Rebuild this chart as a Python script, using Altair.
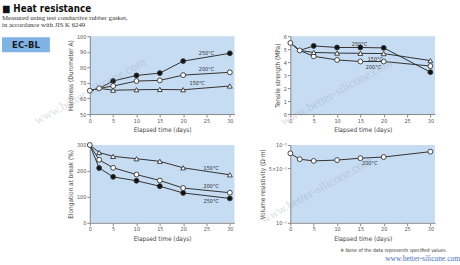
import altair as alt
import pandas as pd

# ---- data -------------------------------------------------------------
days = [0, 2, 5, 10, 15, 20, 30]
temps = ["250°C", "200°C", "150°C"]

# hardness (Durometer A): shared start values at 0 and 2 days, then per temperature
hard_start = [65, 66.5]
hard_250 = [71.2, 74.8, 76.3, 84.0, 89.0]
hard_200 = [68.0, 71.2, 71.6, 75.0, 76.8]
hard_150 = [65.3, 65.6, 65.8, 65.6, 68.0]

# tensile strength (MPa)
tens_start = [5.48, 4.9]
tens_250 = [5.25, 5.13, 5.13, 5.1, 3.23]
tens_200 = [4.45, 4.17, 4.05, 4.05, 3.7]
tens_150 = [4.75, 4.7, 4.68, 4.66, 4.12]

# elongation at break (%): shared start at 0 days only
elong_start = [300]
elong_250 = [211, 177, 162, 141, 115, 94]
elong_200 = [243, 212, 186, 163, 134, 116]
elong_150 = [271, 256, 247, 237, 212, 185]

# volume resistivity (Ω·m) at 200°C
vol_200 = [0.078, 0.0656, 0.0624, 0.064, 0.0676, 0.070, 0.082]

FONT = "'Liberation Sans Narrow', 'DejaVu Sans Condensed', sans-serif"
SERIF = "'Liberation Serif', serif"
INK = "#333333"
BG = "#c6dcf2"
SITE = "www.better-silicone.com"


def frames(start, series):
    """Long tables for the connecting lines and for the markers."""
    n0 = len(start)
    lines, pts = [], []
    for t, vals in zip(temps, series):
        full = list(start) + list(vals)
        for d, v in zip(days, full):
            lines.append({"day": d, "value": v, "temp": t})
        for d, v in zip(days[n0:], vals):
            pts.append({"day": d, "value": v, "temp": t})
    for d, v in zip(days[:n0], start):
        pts.append({"day": d, "value": v, "temp": "start"})
    return pd.DataFrame(lines), pd.DataFrame(pts)


shape_scale = alt.Scale(domain=["250°C", "200°C", "150°C", "start"],
                        range=["circle", "circle", "triangle-up", "circle"])
fill_scale = alt.Scale(domain=["250°C", "200°C", "150°C", "start"],
                       range=["#111111", "white", "white", "white"])

x_enc = alt.X("day:Q", scale=alt.Scale(domain=[0, 31], nice=False),
              axis=alt.Axis(values=[0, 5, 10, 15, 20, 25, 30], labelOverlap=False,
                            title="Elapsed time (days)"))


def watermark(cx, cy):
    """Faint diagonal site stamp."""
    return alt.Chart(pd.DataFrame({"t": [SITE]})).mark_text(
        font=SERIF, fontSize=12.5, angle=331, color="#8e99a6",
        opacity=0.3, align="center", baseline="middle").encode(
        x=alt.value(cx), y=alt.value(cy), text="t:N")


def panel(start, series, ytitle, ydom, yvals, labels, w, h):
    lines, pts = frames(start, series)
    y_enc = alt.Y("value:Q", scale=alt.Scale(domain=ydom, nice=False),
                  axis=alt.Axis(values=yvals, title=ytitle, labelOverlap=False))
    line = alt.Chart(lines).mark_line(color=INK, strokeWidth=1).encode(
        x=x_enc, y=y_enc, detail="temp:N")
    pt = alt.Chart(pts).mark_point(size=24, strokeWidth=0.9, opacity=1,
                                   filled=False, stroke=INK).encode(
        x=x_enc, y=y_enc,
        shape=alt.Shape("temp:N", scale=shape_scale, legend=None),
        fill=alt.Fill("temp:N", scale=fill_scale, legend=None))
    lab = alt.Chart(pd.DataFrame(labels)).mark_text(
        font=FONT, fontSize=5.5, color=INK, align="center").encode(
        x=x_enc, y=y_enc, text="temp:N")
    return alt.layer(line, pt, lab).properties(width=w, height=h)


# series label placements
hard_lab = [{"day": 25, "value": 89.5, "temp": "250°C"},
            {"day": 25, "value": 78.8, "temp": "200°C"},
            {"day": 23, "value": 70.0, "temp": "150°C"}]
tens_lab = [{"day": 14.8, "value": 5.37, "temp": "250°C"},
            {"day": 18.2, "value": 4.27, "temp": "150°C"},
            {"day": 17.8, "value": 3.63, "temp": "200°C"}]
elong_lab = [{"day": 26, "value": 213, "temp": "150°C"},
             {"day": 26, "value": 142, "temp": "200°C"},
             {"day": 26, "value": 84, "temp": "250°C"}]

hardness = panel(hard_start, [hard_250, hard_200, hard_150],
                 "Hardness (Durometer A)", [50, 100],
                 [50, 60, 70, 80, 90, 100], hard_lab, 145, 78)

# grade tag drawn beside the first panel
tag_box = alt.Chart(pd.DataFrame({"t": ["EC-BL"]})).mark_rect(
    color="#80b3e3").encode(x=alt.value(-88), x2=alt.value(-40),
                            y=alt.value(1), y2=alt.value(16))
tag_txt = alt.Chart(pd.DataFrame({"t": ["EC-BL"]})).mark_text(
    font=FONT, fontSize=9.5, fontWeight="bold", color="#1a1a2a",
    baseline="middle").encode(x=alt.value(-64), y=alt.value(8.8), text="t:N")
hardness = alt.layer(hardness, tag_box, tag_txt, watermark(0, 55))

tensile = panel(tens_start, [tens_250, tens_200, tens_150],
                "Tensile strength (MPa)", [0, 6],
                [0, 1, 2, 3, 4, 5, 6], tens_lab, 145, 78)
tensile = alt.layer(tensile, watermark(46, 56))

elongation = panel(elong_start, [elong_250, elong_200, elong_150],
                   "Elongation at break (%)", [0, 300],
                   [0, 100, 200, 300], elong_lab, 145, 78)

# volume resistivity on a log axis
vol_df = pd.DataFrame({"day": days, "value": vol_200, "temp": "200°C"})
vy = alt.Y("value:Q", scale=alt.Scale(type="log", domain=[0.01, 0.1], nice=False),
           axis=alt.Axis(values=[0.01, 0.05, 0.1], labelOverlap=False,
                         labelExpr="datum.value >= 0.09 ? '10⁻¹' : datum.value >= 0.04 ? '5×10⁻²' : '10⁻²'",
                         title="Volume resistivity (Ω·m)"))
vol_line = alt.Chart(vol_df).mark_line(color=INK, strokeWidth=1).encode(x=x_enc, y=vy)
vol_pt = alt.Chart(vol_df).mark_point(size=24, strokeWidth=0.9, opacity=1,
                                      fill="white", stroke=INK).encode(x=x_enc, y=vy)
vol_lab = alt.Chart(pd.DataFrame([{"day": 17, "value": 0.058, "temp": "200°C"}])).mark_text(
    font=FONT, fontSize=5.5, color=INK).encode(x=x_enc, y=vy, text="temp:N")
note = alt.Chart(pd.DataFrame({"t": ["※ None of the data represents specified values."]})).mark_text(
    font=FONT, fontSize=5.0, color="#333", align="left").encode(
    x=alt.value(50), y=alt.value(105.5), text="t:N")
url = alt.Chart(pd.DataFrame({"t": [SITE]})).mark_text(
    font=SERIF, fontSize=7.5, color="#4b6fb8", align="right").encode(
    x=alt.value(170), y=alt.value(114), text="t:N")
volume = alt.layer(vol_line, vol_pt, vol_lab, note, url,
                   watermark(26, 45)).properties(width=145, height=78)

chart = alt.concat(
    hardness, tensile, elongation, volume, columns=2,
    spacing=alt.RowColnumber(row=7, column=24),
).properties(
    title=alt.TitleParams(
        text="■ Heat resistance",
        subtitle=["Measured using test conductive rubber gasket,",
                  "in accordance with JIS K 6249"],
        anchor="start", frame="bounds", font=FONT, fontSize=9.8,
        fontWeight="bold", color="#111111",
        subtitleFont=SERIF, subtitleFontSize=6.8,
        subtitleColor="#333333", subtitlePadding=2, subtitleLineHeight=7,
        offset=5),
    padding={"left": 2, "top": 3, "right": 0, "bottom": 1},
    background="white",
).configure_view(fill=BG, stroke=None).configure_axis(
    grid=False, domainColor="#8a8a8a", tickColor="#8a8a8a", tickSize=3,
    labelFont=FONT, labelFontSize=5.5, labelColor="#555555", labelPadding=1,
    labelOverlap=False, labelFlush=False,
    titleFont=FONT, titleFontSize=6.5, titleFontWeight="normal",
    titleColor="#444444", titlePadding=3,
)

chart.save("out.html", embed_options={"renderer": "svg", "actions": False})
